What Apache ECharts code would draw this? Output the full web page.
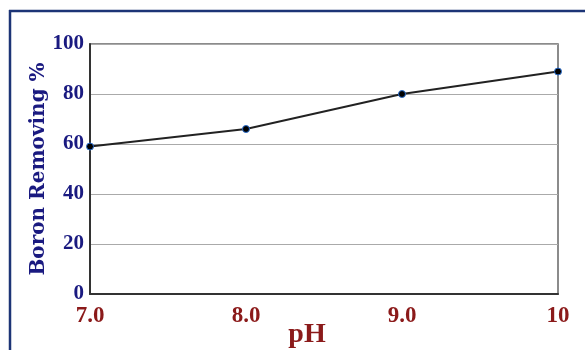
<!DOCTYPE html>
<html><head><meta charset="utf-8">
<script src="https://cdn.jsdelivr.net/npm/echarts@6/dist/echarts.min.js"></script>
<style>html,body{margin:0;padding:0;background:#fff}#c{width:585px;height:350px}</style>
</head><body><div id="c"></div>
<script>
const phValues = [7, 8, 9, 10];
const boronRemoving = [59, 66, 80, 89];
const xTickLabels = {7: '7.0', 8: '8.0', 9: '9.0', 10: '10'};
const yTicks = [0, 20, 40, 60, 80, 100];

const chart = echarts.init(document.getElementById('c'));
chart.setOption({
  animation: false,
  backgroundColor: '#fff',
  grid: {left: 90, top: 44, right: 27, bottom: 56, show: true, borderColor: '#666', borderWidth: 1.5,
    containLabel: false, outerBoundsMode: 'none'},
  graphic: [
    {type: 'line', shape: {x1: 9, y1: 11, x2: 585, y2: 11}, style: {stroke: '#1c3476', lineWidth: 2.5}},
    {type: 'line', shape: {x1: 10, y1: 10, x2: 10, y2: 350}, style: {stroke: '#1c3476', lineWidth: 2.5}}
  ],
  xAxis: {
    type: 'value', min: 7, max: 10, interval: 1,
    name: 'pH', nameLocation: 'middle', nameGap: 23, nameMoveOverlap: false,
    nameTextStyle: {color: '#8b1a1a', fontFamily: 'Liberation Serif', fontWeight: 'bold', fontSize: 28, padding: [4, 34, 0, 0]},
    axisLine: {show: true, lineStyle: {color: '#333', width: 2}},
    axisTick: {show: false},
    splitLine: {show: false},
    axisLabel: {color: '#8b1a1a', fontFamily: 'Liberation Serif', fontWeight: 'bold', fontSize: 23, margin: 11,
      formatter: v => xTickLabels[v] || ''}
  },
  yAxis: {
    type: 'value', min: 0, max: 100, interval: 20,
    name: 'Boron Removing %', nameLocation: 'middle', nameGap: 41, nameRotate: 90, nameMoveOverlap: false,
    nameTextStyle: {color: '#1a1a80', fontFamily: 'DejaVu Serif', fontWeight: 'bold', fontSize: 20},
    axisLine: {show: true, lineStyle: {color: '#333', width: 2}},
    axisTick: {show: false},
    splitLine: {show: true, lineStyle: {color: '#aaa', width: 1.2}},
    axisLabel: {color: '#1a1a80', fontFamily: 'Liberation Serif', fontWeight: 'bold', fontSize: 21, margin: 6,
      formatter: v => yTicks.includes(v) ? String(v) : ''}
  },
  series: [{
    type: 'line',
    data: phValues.map((x, i) => [x, boronRemoving[i]]),
    symbol: 'circle', symbolSize: 7,
    itemStyle: {color: '#000', borderColor: '#2a6fd0', borderWidth: 1},
    lineStyle: {color: '#222', width: 1.8},
    clip: false
  }]
});
</script></body></html>
